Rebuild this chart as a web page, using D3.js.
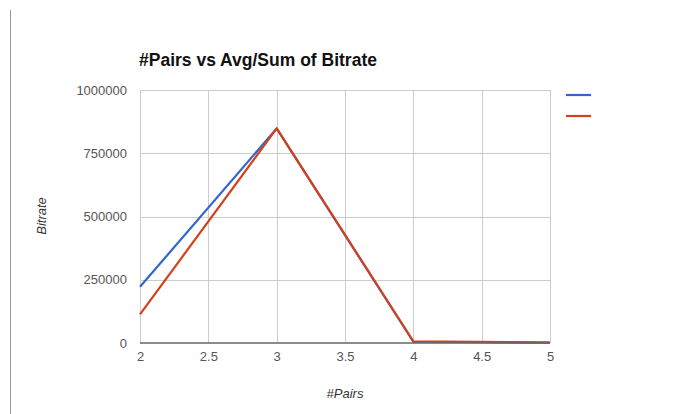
<!DOCTYPE html>
<html><head><meta charset="utf-8">
<script src="https://cdn.jsdelivr.net/npm/d3@7"></script>
<style>body{margin:0;background:#fff;}svg{display:block;font-family:"Liberation Sans",Arial,sans-serif;}</style>
</head><body><svg id="c" width="680" height="414"></svg>
<script>
const pairs = [2, 3, 4, 5];
const seriesAvg = [222000, 848000, 5000, 1500];
const seriesSum = [113000, 848000, 7000, 2000];
const xTicks = [2, 2.5, 3, 3.5, 4, 4.5, 5];
const yTicks = [0, 250000, 500000, 750000, 1000000];
const colors = ["#3366cc", "#d5401c"];

const svg = d3.select("#c");
const x = d3.scaleLinear().domain([2, 5]).range([140, 550]);
const y = d3.scaleLinear().domain([0, 1000000]).range([343, 90]);

svg.append("line").attr("x1",10.5).attr("x2",10.5).attr("y1",10).attr("y2",414).attr("stroke","#999").attr("stroke-width",1);

// grid
svg.append("g").selectAll("line").data(yTicks.filter(d=>d>0)).join("line")
  .attr("x1",140).attr("x2",550).attr("y1",d=>Math.round(y(d))+0.5).attr("y2",d=>Math.round(y(d))+0.5)
  .attr("stroke","#cccccc");
svg.append("g").selectAll("line").data(xTicks).join("line")
  .attr("y1",90).attr("y2",343).attr("x1",d=>Math.round(x(d))+0.5).attr("x2",d=>Math.round(x(d))+0.5)
  .attr("stroke","#cccccc");

// axes labels
const yAxis = d3.axisLeft(y).tickValues(yTicks).tickSize(0).tickPadding(13).tickFormat(d3.format("d"));
const gy = svg.append("g").attr("transform","translate(140,0)").call(yAxis);
gy.select(".domain").remove();
gy.selectAll("text").attr("fill","#555").attr("font-size",13).attr("font-family","Liberation Sans, Arial, sans-serif");

const xAxis = d3.axisBottom(x).tickValues(xTicks).tickSize(0).tickPadding(9).tickFormat(d=>String(d));
const gx = svg.append("g").attr("transform","translate(0,343)").call(xAxis);
gx.select(".domain").remove();
gx.selectAll("text").attr("fill","#555").attr("font-size",13).attr("font-family","Liberation Sans, Arial, sans-serif");

// series
const line = d3.line().x((d,i)=>x(pairs[i])).y(d=>y(d));
[seriesAvg, seriesSum].forEach((s,i)=>{
  svg.append("path").datum(s).attr("d",line).attr("fill","none").attr("stroke",colors[i]).attr("stroke-width",2.2).attr("stroke-linejoin","round");
});

// baseline
svg.append("line").attr("x1",140).attr("x2",550).attr("y1",y(0)).attr("y2",y(0)).attr("stroke","#666").attr("stroke-width",1.5);

// title
svg.append("text").attr("x",139).attr("y",66).attr("font-size",17.5).attr("font-weight","bold").attr("fill","#111").text("#Pairs vs Avg/Sum of Bitrate");

// axis titles
svg.append("text").attr("transform","translate(46,216) rotate(-90)").attr("text-anchor","middle").attr("font-size",13).attr("font-style","italic").attr("fill","#333").text("Bitrate");
svg.append("text").attr("x",345).attr("y",398).attr("text-anchor","middle").attr("font-size",13).attr("font-style","italic").attr("fill","#333").text("#Pairs");

// legend
svg.append("g").selectAll("line").data(colors).join("line")
  .attr("x1",566).attr("x2",591).attr("y1",(d,i)=>95+i*21).attr("y2",(d,i)=>95+i*21)
  .attr("stroke",d=>d).attr("stroke-width",2.2);
</script></body></html>
